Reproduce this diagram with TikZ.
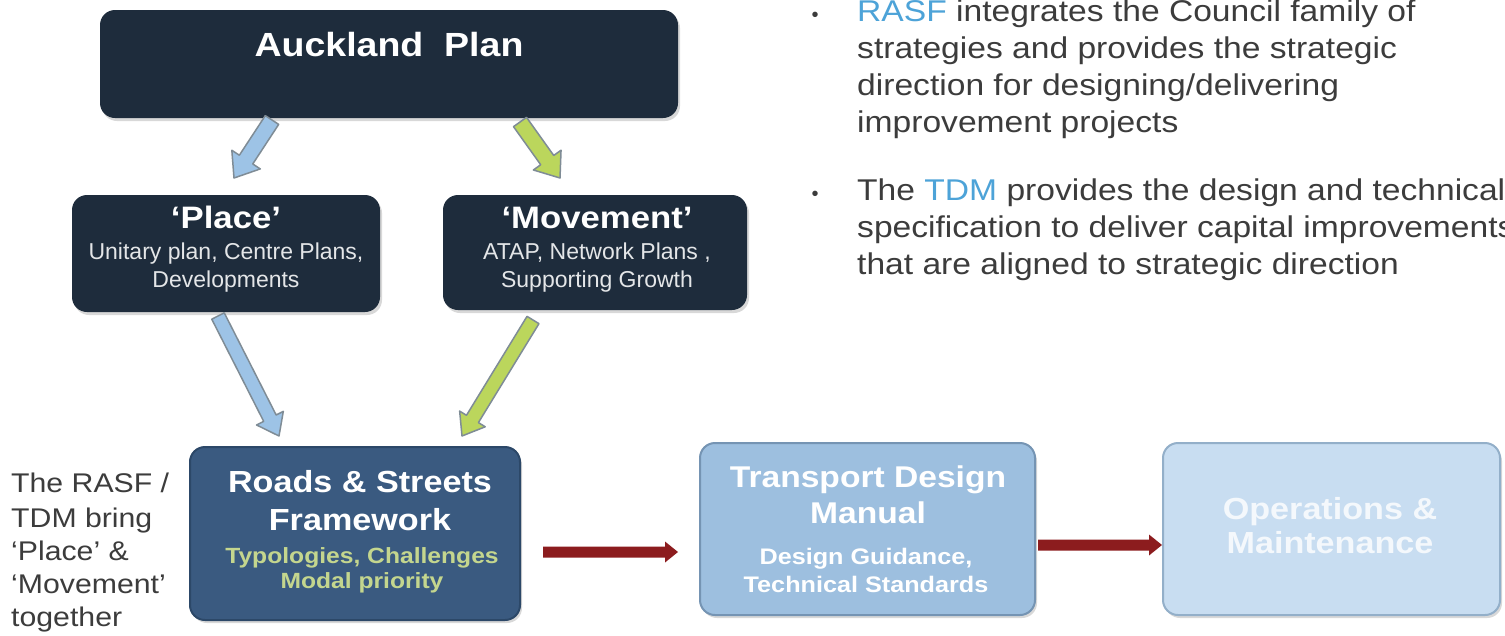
\documentclass[tikz,border=0pt]{standalone}
\usepackage{fontspec}
\setmainfont{Liberation Sans}
\newfontfamily\wf[FakeStretch=1.12]{Liberation Sans}
\usetikzlibrary{calc,shadows}
\definecolor{navy}{HTML}{1E2C3C}
\definecolor{roadblue}{HTML}{3A5A80}
\definecolor{roadedge}{HTML}{2C4868}
\definecolor{tdmblue}{HTML}{9DBFDF}
\definecolor{tdmedge}{HTML}{7594B3}
\definecolor{opsblue}{HTML}{C8DDF1}
\definecolor{opsedge}{HTML}{93AFC9}
\definecolor{arrblue}{HTML}{9DC3E6}
\definecolor{arrgreen}{HTML}{BBD65C}
\definecolor{arredge}{HTML}{7F8C96}
\definecolor{darkred}{HTML}{8C1C1E}
\definecolor{greentext}{HTML}{C4D68E}
\definecolor{bodygray}{HTML}{3C3C3C}
\definecolor{accent}{HTML}{4DA3D8}
\newcommand\fs[1]{\fontsize{#1}{#1}\selectfont}
\newcommand\blockarrow[6]{%
  \path[#1] ($(#2)!#4!90:(#3)$) -- ($(#3)!#6!(#2)!#4!90:(#3)$) -- ($(#3)!#6!(#2)!#5!90:(#3)$) -- (#3)
    -- ($(#3)!#6!(#2)!#5!-90:(#3)$) -- ($(#3)!#6!(#2)!#4!-90:(#3)$) -- ($(#2)!#4!-90:(#3)$) -- cycle;}
\begin{document}
\begin{tikzpicture}[x=1pt,y=-1pt,
  boxbase/.style={rectangle, rounded corners=15pt, inner sep=0pt,
    drop shadow={opacity=0.3, shadow xshift=2pt, shadow yshift=-3pt}},
  darkbox/.style={boxbase, fill=navy},
  roadbox/.style={boxbase, fill=roadblue, draw=roadedge, line width=2pt},
  tdmbox/.style={boxbase, fill=tdmblue, draw=tdmedge, line width=2pt},
  opsbox/.style={boxbase, fill=opsblue, draw=opsedge, line width=2pt},
  lbl/.style={inner sep=0pt, anchor=base},
  lblw/.style={inner sep=0pt, anchor=base west},
  bluearrow/.style={fill=arrblue, draw=arredge, line width=1.5pt, line join=round},
  greenarrow/.style={fill=arrgreen, draw=arredge, line width=1.5pt, line join=round},
  redarrow/.style={fill=darkred},
  bodytext/.style={lblw, text=bodygray, font=\wf\fs{30}},
  bullettext/.style={lbl, text=bodygray, font=\fs{20}},
  sidetext/.style={lblw, text=bodygray, font=\wf\fs{27}}
]
\useasboundingbox (0,0) rectangle (1505,635);
\fill[white] (0,0) rectangle (1505,635);

% boxes
\node[darkbox, minimum width=578pt, minimum height=108pt] (ap) at (389,64) {};
\node[darkbox, minimum width=308pt, minimum height=117pt] (pl) at (226,253.5) {};
\node[darkbox, minimum width=304pt, minimum height=115pt] (mv) at (595,252.5) {};
\node[roadbox, minimum width=330pt, minimum height=173pt] (rs) at (355,533.5) {};
\node[tdmbox, minimum width=335pt, minimum height=172pt] (tdm) at (867.5,529) {};
\node[opsbox, minimum width=337pt, minimum height=172pt] (ops) at (1331.5,529) {};

% box texts
\node[lbl, text=white, font=\wf\bfseries\fs{33.5}] (apt) at (389,56) {Auckland\ \ Plan};
\node[lbl, text=white, font=\wf\bfseries\fs{31}] (plt) at (226,228) {‘Place’};
\node[lbl, text=white!88!navy, font=\fs{23}] (pl1) at (226,259) {Unitary plan, Centre Plans,};
\node[lbl, text=white!88!navy, font=\fs{23}] (pl2) at (226,287) {Developments};
\node[lbl, text=white, font=\wf\bfseries\fs{31}] (mvt) at (597,228) {‘Movement’};
\node[lbl, text=white!88!navy, font=\fs{23}] (mv1) at (597,259) {ATAP, Network Plans ,};
\node[lbl, text=white!88!navy, font=\fs{23}] (mv2) at (597,287) {Supporting Growth};

\node[lbl, text=white, font=\wf\bfseries\fs{30.5}] (rs1) at (360,492) {Roads \& Streets};
\node[lbl, text=white, font=\wf\bfseries\fs{30.5}] (rs2) at (360,530) {Framework};
\node[lbl, text=greentext, font=\wf\bfseries\fs{22}] (rs3) at (362,563) {Typologies, Challenges};
\node[lbl, text=greentext, font=\wf\bfseries\fs{22}] (rs4) at (362,588) {Modal priority};

\node[lbl, text=white, font=\wf\bfseries\fs{30}] (td1) at (868,487) {Transport Design};
\node[lbl, text=white, font=\wf\bfseries\fs{30}] (td2) at (868,523) {Manual};
\node[lbl, text=white, font=\wf\bfseries\fs{22.5}] (td3) at (866,564) {Design Guidance,};
\node[lbl, text=white, font=\wf\bfseries\fs{22.5}] (td4) at (866,592) {Technical Standards};

\node[lbl, text=white!80!opsblue, font=\wf\bfseries\fs{30.5}] (op1) at (1330,519) {Operations \&};
\node[lbl, text=white!80!opsblue, font=\wf\bfseries\fs{30.5}] (op2) at (1330,553) {Maintenance};

% side text
\node[sidetext] (s1) at (11,492) {The RASF /};
\node[sidetext] (s2) at (11,527) {TDM bring};
\node[sidetext] (s3) at (11,560) {‘Place’ \&};
\node[sidetext] (s4) at (11,593) {‘Movement’};
\node[sidetext] (s5) at (11,626) {together};

% bullet text
\node[bullettext] (b1) at (815,21) {\textbullet};
\node[bodytext] (t1) at (857,21) {\textcolor{accent}{RASF} integrates the Council family of};
\node[bodytext] (t2) at (857,58) {strategies and provides the strategic};
\node[bodytext] (t3) at (857,95) {direction for designing/delivering};
\node[bodytext] (t4) at (857,132) {improvement projects};
\node[bullettext] (b2) at (815,200) {\textbullet};
\node[bodytext] (t5) at (857,200) {The \textcolor{accent}{TDM} provides the design and technical};
\node[bodytext] (t6) at (857,237) {specification to deliver capital improvements};
\node[bodytext] (t7) at (857,274) {that are aligned to strategic direction};

% arrow end points
\coordinate (a1s) at (272,120); \coordinate (a1e) at (234,178);
\coordinate (a2s) at (520,122); \coordinate (a2e) at (560,178);
\coordinate (a3s) at (218,316); \coordinate (a3e) at (279,436);
\coordinate (a4s) at (533,320); \coordinate (a4e) at (462,436);
\coordinate (r1s) at (543,552); \coordinate (r1e) at (678,552);
\coordinate (r2s) at (1038,545); \coordinate (r2e) at (1162,545);

\blockarrow{bluearrow}{a1s}{a1e}{8pt}{17pt}{22pt}
\blockarrow{greenarrow}{a2s}{a2e}{8pt}{17pt}{22pt}
\blockarrow{bluearrow}{a3s}{a3e}{7pt}{15pt}{20pt}
\blockarrow{greenarrow}{a4s}{a4e}{7pt}{15pt}{20pt}
\blockarrow{redarrow}{r1s}{r1e}{5.5pt}{10.5pt}{13pt}
\blockarrow{redarrow}{r2s}{r2e}{5.5pt}{10.5pt}{13pt}
\end{tikzpicture}
\end{document}
